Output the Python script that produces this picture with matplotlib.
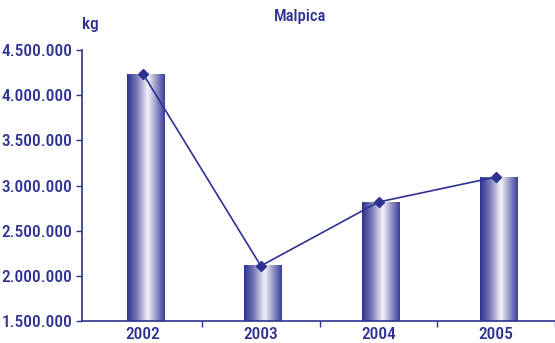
"""
Malpica - kg per year, bars with gradient + line with markers
"""

import matplotlib as mpl
mpl.use( "Agg" )
import matplotlib.pyplot as plt
from matplotlib.colors import LinearSegmentedColormap
import numpy as np

years = [ "2002", "2003", "2004", "2005" ]
kg = [ 4234000, 2110000, 2817000, 3094000 ]
yticks = [ 1500000, 2000000, 2500000, 3000000, 3500000, 4000000, 4500000 ]

navy = "#2e3192"
plt.rcParams[ "font.family" ] = [ "Roboto Condensed", "DejaVu Sans" ]
plt.rcParams[ "font.weight" ] = "medium"

fig = plt.figure( figsize=(5.55,3.43), dpi=100 )
ax = fig.add_axes( [ 82/555, 22/343, (555-82)/555, (321-50)/343 ] )

# horizontal gradient used for every bar
grad = LinearSegmentedColormap.from_list( "bar", [
  (0.0, navy), (0.25, "#7576b4"), (0.55, "#f4f4fb"), (0.8, "#8a8bc0"), (1.0, "#3c3f98") ] )
img = np.linspace( 0, 1, 200 ).reshape( 1, -1 )

x = np.arange( len( years ) )
w = 0.32
for xi, v in zip( x, kg ):
  ax.imshow( img, cmap=grad, aspect="auto", extent=( xi-w/2+0.02, xi+w/2+0.02, yticks[0], v ),
    interpolation="bicubic", zorder=2 )

ax.plot( x, kg, color=navy, lw=1.2, marker="D", ms=5.5, zorder=3 )

ax.set_xlim( -0.52, -0.52 + (555-82)/122.3 )
ax.set_ylim( yticks[0], yticks[-1] )

# years in the middle, tick marks between the categories
ax.set_xticks( x )
ax.set_xticklabels( years )
ax.set_xticks( np.arange( len( years ) ) + 0.5, minor=True )
ax.tick_params( axis="x", which="major", length=0, pad=4.5 )
ax.tick_params( axis="x", which="minor", length=4, width=1, color=navy, direction="out" )

ax.set_yticks( yticks )
ax.set_yticklabels( [ "{:,}".format( t ).replace( ",", "." ) for t in yticks ] )
ax.tick_params( axis="y", length=4, width=1, color=navy, pad=3 )
ax.tick_params( labelsize=12.5, labelcolor=navy )

for s in [ "top", "right" ]:
  ax.spines[ s ].set_visible( False )
for s in [ "left", "bottom" ]:
  ax.spines[ s ].set_color( navy )
  ax.spines[ s ].set_linewidth( 1.2 )

fig.text( 300/555, 1-17/343, "Malpica", ha="center", va="center", color=navy, fontsize=12 )
fig.text( 90/555, 1-25/343, "kg", ha="center", va="center", color=navy, fontsize=12.5 )

plt.savefig( "out.png", dpi=100 )
plt.close()
